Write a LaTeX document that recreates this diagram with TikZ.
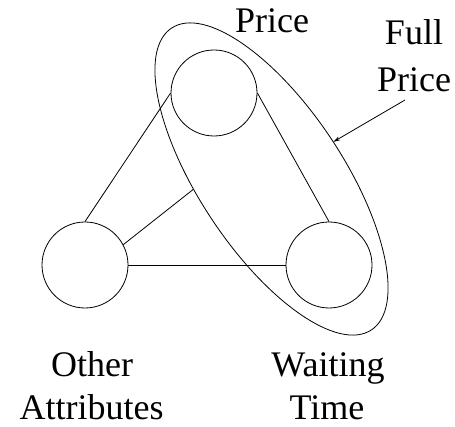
\documentclass[tikz,border=0pt]{standalone}
\usepackage{fontspec}
\setmainfont{Liberation Serif}
\usetikzlibrary{arrows.meta}
\begin{document}
\begin{tikzpicture}[x=1pt,y=1pt,
  every path/.style={line width=0.8pt},
  attr/.style={circle,draw,minimum size=86pt,inner sep=0pt},
  lbl/.style={anchor=base,inner sep=0pt,font=\fontsize{36}{43.2}\selectfont},
  tip/.style={-{Stealth[length=7pt,width=4pt]}}]
\useasboundingbox (0,0) rectangle (455,427);
% attribute circles
\node[attr] (P) at (214,334) {};
\node[attr] (O) at (85,162) {};
\node[attr] (W) at (329,162) {};
% full price ellipse
\begin{scope}[shift={(271.5,248)},rotate=-56.5]
  \draw (0,0) ellipse (181pt and 72pt);
  \coordinate (e1) at (259:181pt and 72pt);
  \coordinate (e2) at (89:181pt and 72pt);
\end{scope}
% connectors
\draw (P.west) -- (O.north);
\draw (P.east) -- (W.north);
\draw (O.east) -- (W.west);
\draw (O.28) -- (e1);
\coordinate (a0) at (405,327);
\draw[tip] (a0) -- (e2);
% labels
\node[lbl] (lprice) at (272,394) {Price};
\node[lbl] (lfull1) at (414,382) {Full};
\node[lbl] (lfull2) at (414,335) {Price};
\node[lbl] (lother1) at (92,50.3) {Other};
\node[lbl] (lother2) at (91.5,7) {Attributes};
\node[lbl] (lwait1) at (328,50.3) {Waiting};
\node[lbl] (lwait2) at (327,7) {Time};
\end{tikzpicture}
\end{document}
